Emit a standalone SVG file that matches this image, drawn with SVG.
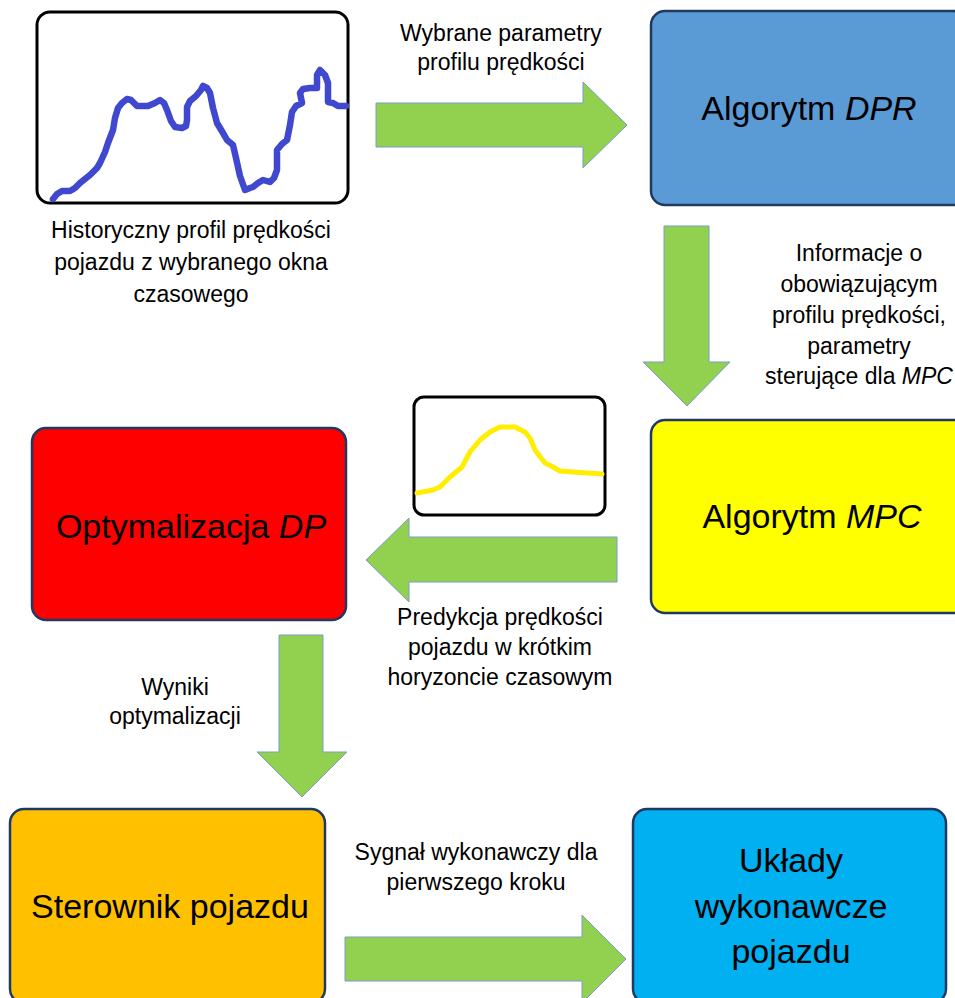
<svg xmlns="http://www.w3.org/2000/svg" width="955" height="998" viewBox="0 0 955 998">
  <style>
    .box { stroke: #1f3864; stroke-width: 2.5; }
    .chart { fill: #ffffff; stroke: #000000; stroke-width: 3; }
    .arrow { fill: #92d050; stroke: #7a9cc6; stroke-width: 1; }
    .title { font-family: "Liberation Sans", Arial, sans-serif; font-size: 34px; fill: #000000; text-anchor: middle; }
    .label { font-family: "Liberation Sans", Arial, sans-serif; font-size: 23px; fill: #000000; text-anchor: middle; }
    .trace { fill: none; stroke-linejoin: round; stroke-linecap: round; }
  </style>

  <rect width="955" height="998" fill="#ffffff"/>

  <!-- historical speed profile -->
  <g id="chart-history">
    <rect class="chart" x="37" y="12" width="311" height="191" rx="13"/>
    <polyline class="trace" stroke="#3f48cf" stroke-width="6.5" points="53,199 57,194 62,191 70,191 75,188 80,183 90,175 97,168 100,163 105,152 108,143 113,130 115,118 118,108 122,103 127,99 131,100 137,106 148,106 155,103 160,100 164,103 167,110 171,121 175,127 182,128 186,126 187,120 187,107 190,101 196,96 201,90 203,86 207,88 210,93 213,108 217,123 223,133 227,140 233,145 236,158 240,176 245,190 250,188 253,187 258,183 263,180 270,182 274,178 277,170 277,150 282,144 287,140 290,125 292,112 296,106 302,103 300,93 303,89 310,88 317,88 317,75 320,70 325,75 328,83 328,102 333,103 338,106 346,106"/>
    <text class="label"><tspan x="191" y="238">Historyczny profil prędkości</tspan><tspan x="191" y="270">pojazdu z wybranego okna</tspan><tspan x="191" y="302">czasowego</tspan></text>
  </g>

  <!-- short-horizon predicted speed -->
  <g id="chart-prediction">
    <rect class="chart" x="414" y="397" width="191" height="118" rx="10" stroke-width="2.5"/>
    <polyline class="trace" stroke="#ffee00" stroke-width="5" points="417,493 433,490 440,487 450,477 462,467 470,452 480,440 490,432 500,427 515,427 525,432 530,438 535,450 545,463 553,467 560,471 573,472 587,473 602,474"/>
  </g>

  <g id="node-dpr">
    <rect class="box" x="651" y="11" width="316" height="194" rx="14" fill="#5b9bd5"/>
    <text class="title" x="809" y="120">Algorytm <tspan font-style="italic">DPR</tspan></text>
  </g>

  <g id="node-mpc">
    <rect class="box" x="651" y="420" width="322" height="193" rx="14" fill="#ffff00"/>
    <text class="title" x="812" y="528">Algorytm <tspan font-style="italic">MPC</tspan></text>
  </g>

  <g id="node-dp">
    <rect class="box" x="32" y="428" width="314" height="192" rx="14" fill="#ff0000"/>
    <text class="title" x="191" y="538">Optymalizacja <tspan font-style="italic">DP</tspan></text>
  </g>

  <g id="node-controller">
    <rect class="box" x="10" y="809" width="315" height="194" rx="14" fill="#ffc000"/>
    <text class="title" x="170" y="918">Sterownik pojazdu</text>
  </g>

  <g id="node-actuators">
    <rect class="box" x="633" y="809" width="313" height="194" rx="14" fill="#00b0f0"/>
    <text class="title"><tspan x="791" y="872">Układy</tspan><tspan x="791" y="918">wykonawcze</tspan><tspan x="791" y="963">pojazdu</tspan></text>
  </g>

  <!-- block arrows with their labels -->
  <g id="connectors">
    <polygon class="arrow" points="376,103 583,103 583,82 627,125 583,168 583,147 376,147"/>
    <text class="label"><tspan x="501" y="41">Wybrane parametry</tspan><tspan x="501" y="70">profilu prędkości</tspan></text>

    <polygon class="arrow" points="664,226 709,226 709,362 730,362 687,406 643,362 664,362"/>
    <text class="label"><tspan x="859" y="261">Informacje o</tspan><tspan x="859" y="292">obowiązującym</tspan><tspan x="859" y="323">profilu prędkości,</tspan><tspan x="859" y="354">parametry</tspan><tspan x="859" y="384">sterujące dla <tspan font-style="italic">MPC</tspan></tspan></text>

    <polygon class="arrow" points="617,537 617,582 409,582 409,602 366,560 409,518 409,537"/>
    <text class="label"><tspan x="500" y="625">Predykcja prędkości</tspan><tspan x="500" y="655">pojazdu w krótkim</tspan><tspan x="500" y="685">horyzoncie czasowym</tspan></text>

    <polygon class="arrow" points="279,635 323,635 323,752 347,752 302,797 257,752 279,752"/>
    <text class="label"><tspan x="175" y="695">Wyniki</tspan><tspan x="175" y="724">optymalizacji</tspan></text>

    <polygon class="arrow" points="345,937 582,937 582,915 626,959 582,1003 582,981 345,981"/>
    <text class="label"><tspan x="476" y="860">Sygnał wykonawczy dla</tspan><tspan x="476" y="890">pierwszego kroku</tspan></text>
  </g>
</svg>
